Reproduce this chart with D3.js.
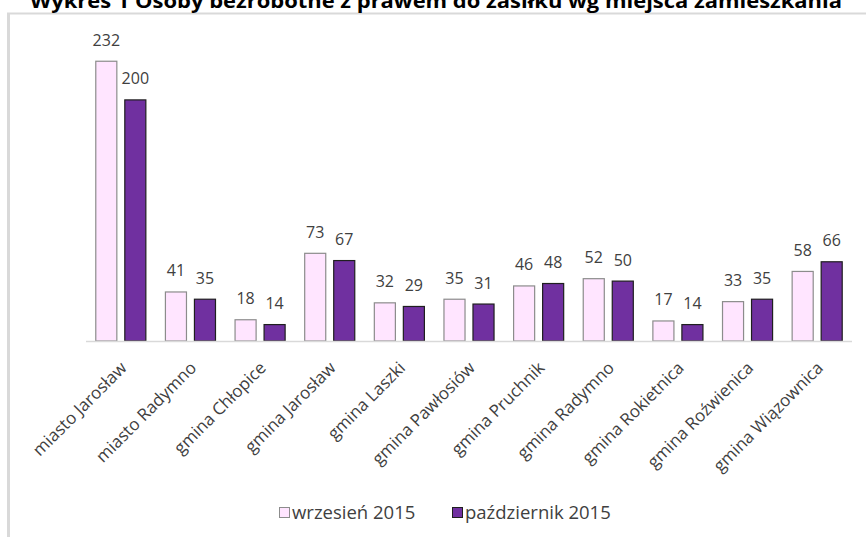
<!DOCTYPE html>
<html>
<head>
<meta charset="utf-8">
<script src="https://cdn.jsdelivr.net/npm/d3@7"></script>
<style>
  body { margin: 0; background: #fff; }
  svg { display: block; font-family: "Open Sans", Lato, sans-serif; }
</style>
</head>
<body>
<svg id="chart" width="866" height="537"></svg>
<script>
const categories = [
  "miasto Jarosław", "miasto Radymno", "gmina Chłopice", "gmina Jarosław",
  "gmina Laszki", "gmina Pawłosiów", "gmina Pruchnik", "gmina Radymno",
  "gmina Rokietnica", "gmina Roźwienica", "gmina Wiązownica",
];
const series = ["wrzesień 2015", "październik 2015"];
const september = [232, 41, 18, 73, 32, 35, 46, 52, 17, 33, 58];
const october = [200, 35, 14, 67, 29, 31, 48, 50, 14, 35, 66];
const title = "Wykres 1 Osoby bezrobotne z prawem do zasiłku wg miejsca zamieszkania";

const fills = ["#ffe5ff", "#7030a0"];
const strokes = ["#8c8c8c", "#1f1f1f"];

const svg = d3.select("#chart");

// chart frame (only top and left edges are visible in the crop)
svg.append("line").attr("x1", 7).attr("x2", 866).attr("y1", 13.5).attr("y2", 13.5)
  .attr("stroke", "#d9d9d9").attr("stroke-width", 2);
svg.append("line").attr("x1", 8.5).attr("x2", 8.5).attr("y1", 13).attr("y2", 537)
  .attr("stroke", "#d9d9d9").attr("stroke-width", 3);

// title sits partly above the top edge, as in the source
svg.append("text")
  .attr("x", 30).attr("y", 8)
  .attr("font-weight", "bold")
  .attr("font-size", 19)
  .attr("textLength", 812)
  .attr("lengthAdjust", "spacingAndGlyphs")
  .attr("fill", "#000")
  .text(title);

const x0 = d3.scaleBand().domain(categories).range([86, 852]);
const x1 = d3.scaleBand().domain(series).range([0, x0.bandwidth()])
  .paddingInner(0.24).paddingOuter(0.32);
const y = d3.scaleLinear().domain([0, 250]).range([341, 39]);

const rows = categories.map((name, i) => ({
  name,
  values: [september[i], october[i]],
}));

const groups = svg.selectAll(".group")
  .data(rows)
  .join("g")
  .attr("class", "group")
  .attr("transform", (d) => `translate(${x0(d.name)},0)`);

groups.selectAll("rect")
  .data((d) => d.values.map((v, k) => ({ key: series[k], k, v })))
  .join("rect")
  .attr("x", (d) => x1(d.key) + 0.5)
  .attr("y", (d) => y(d.v) + 0.5)
  .attr("width", x1.bandwidth() - 1)
  .attr("height", (d) => y(0) - y(d.v) - 0.5)
  .attr("fill", (d) => fills[d.k])
  .attr("stroke", (d) => strokes[d.k])
  .attr("stroke-width", 1.2);

groups.selectAll(".value")
  .data((d) => d.values.map((v, k) => ({ key: series[k], k, v })))
  .join("text")
  .attr("class", "value")
  .attr("x", (d) => x1(d.key) + x1.bandwidth() / 2)
  .attr("y", (d) => y(d.v) - 15)
  .attr("text-anchor", "middle")
  .attr("font-size", 16)
  .attr("fill", "#404040")
  .text((d) => d.v);

// baseline
svg.append("line")
  .attr("x1", 86).attr("x2", 852)
  .attr("y1", y(0) + 0.5).attr("y2", y(0) + 0.5)
  .attr("stroke", "#d9d9d9").attr("stroke-width", 1.5);

// rotated category labels
svg.selectAll(".cat")
  .data(categories)
  .join("text")
  .attr("class", "cat")
  .attr("transform", (d) => `translate(${x0(d) + x0.bandwidth() / 2 + 7},369) rotate(-45)`)
  .attr("text-anchor", "end")
  .attr("font-size", 17)
  .attr("fill", "#404040")
  .text((d) => d);

// legend
const legendX = [279, 452];
const legend = svg.selectAll(".legend")
  .data(series)
  .join("g")
  .attr("class", "legend")
  .attr("transform", (d, i) => `translate(${legendX[i]},507)`);

legend.append("rect")
  .attr("x", 0.5).attr("y", 0.5)
  .attr("width", 10).attr("height", 10)
  .attr("fill", (d, i) => fills[i])
  .attr("stroke", (d, i) => strokes[i]);

legend.append("text")
  .attr("x", 13).attr("y", 12)
  .attr("font-size", 18.5)
  .attr("fill", "#404040")
  .text((d) => d);
</script>
</body>
</html>
